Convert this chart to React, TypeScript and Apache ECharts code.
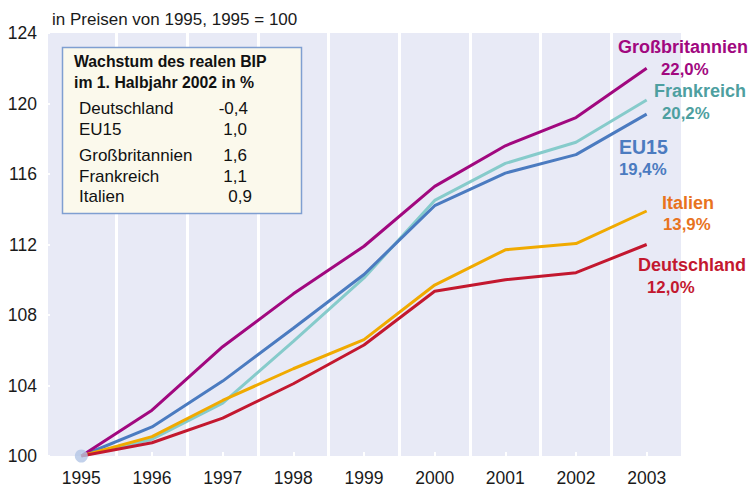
import React, { useEffect, useRef } from "react";
import * as echarts from "echarts";

const years = ["1995", "1996", "1997", "1998", "1999", "2000", "2001", "2002", "2003"];
const gb = [100, 102.6, 106.2, 109.2, 111.9, 115.3, 117.6, 119.2, 122.0];
const fr = [100, 100.95, 103.0, 106.5, 110.1, 114.5, 116.6, 117.8, 120.2];
const eu15 = [100, 101.65, 104.25, 107.25, 110.3, 114.2, 116.05, 117.1, 119.4];
const it = [100, 101.1, 103.15, 104.95, 106.6, 109.7, 111.7, 112.05, 113.9];
const de = [100, 100.75, 102.15, 104.1, 106.3, 109.35, 110.0, 110.4, 112.0];

const insetTitle = ["Wachstum des realen BIP", "im 1. Halbjahr 2002 in %"];
const insetNames = ["Deutschland", "EU15", "Großbritannien", "Frankreich", "Italien"];
const insetValues = ["-0,4", "1,0", "1,6", "1,1", "0,9"];

const seriesLabels = [
  { name: "Großbritannien", pct: "22,0%" },
  { name: "Frankreich", pct: "20,2%" },
  { name: "EU15", pct: "19,4%" },
  { name: "Italien", pct: "13,9%" },
  { name: "Deutschland", pct: "12,0%" },
];

const FONT = "Liberation Sans, Arial, sans-serif";

export default function App() {
  const ref = useRef<HTMLDivElement>(null);
  useEffect(() => {
    if (!ref.current) return;
    const chart = echarts.init(ref.current, null, { renderer: "svg" });
    const line = (name: string, data: number[], color: string, z: number) => ({
      name,
      type: "line",
      data,
      symbol: "none",
      z,
      lineStyle: { color, width: 3 },
      itemStyle: { color },
    });
    const rowY = [108, 129, 155, 176, 196];
    const valRight = [248, 247, 247, 247, 252];
    const graphic: any[] = [
      {
        type: "text",
        x: 52,
        y: 19,
        style: { text: "in Preisen von 1995, 1995 = 100", font: `17px ${FONT}`, fill: "#1a1a1a", verticalAlign: "middle" },
      },
      {
        type: "rect",
        shape: { x: 62.5, y: 47.5, width: 239, height: 166 },
        style: { fill: "#fbf9ec", stroke: "#7f9fd1", lineWidth: 1.5 },
        z: 10,
      },
    ];
    insetTitle.forEach((t, i) => {
      graphic.push({
        type: "text",
        x: 74,
        y: 61 + i * 21.5,
        z: 11,
        style: { text: t, font: `bold 15.8px ${FONT}`, fill: "#111", verticalAlign: "middle" },
      });
    });
    insetNames.forEach((n, i) => {
      graphic.push({
        type: "text",
        x: 79,
        y: rowY[i],
        z: 11,
        style: { text: n, font: `17px ${FONT}`, fill: "#111", verticalAlign: "middle" },
      });
      graphic.push({
        type: "text",
        x: valRight[i],
        y: rowY[i],
        z: 11,
        style: { text: insetValues[i], font: `17px ${FONT}`, fill: "#111", verticalAlign: "middle", align: "right" },
      });
    });
    const labelCfg = [
      { color: "#a1087f", nx: 618, ny: 47, px: 661, py: 69, size: 18 },
      { color: "#4e9fa0", nx: 654, ny: 91, px: 662, py: 113, size: 18 },
      { color: "#4b7bc0", nx: 619, ny: 147, px: 619, py: 169, size: 19.5 },
      { color: "#e8731e", nx: 662, ny: 203, px: 663, py: 224, size: 18 },
      { color: "#c3182f", nx: 638, ny: 265, px: 647, py: 287, size: 18 },
    ];
    seriesLabels.forEach((l, i) => {
      const c = labelCfg[i];
      graphic.push({
        type: "text",
        x: c.nx,
        y: c.ny,
        z: 12,
        style: { text: l.name, font: `bold ${c.size}px ${FONT}`, fill: c.color, verticalAlign: "middle" },
      });
      graphic.push({
        type: "text",
        x: c.px,
        y: c.py,
        z: 12,
        style: { text: l.pct, font: `bold 16.8px ${FONT}`, fill: c.color, verticalAlign: "middle" },
      });
    });

    chart.setOption({
      animation: false,
      grid: {
        left: 46,
        right: 68,
        top: 33,
        bottom: 32,
        show: true,
        backgroundColor: "#e8eaf6",
        borderWidth: 0,
      },
      xAxis: {
        type: "category",
        data: years,
        boundaryGap: true,
        axisLine: { show: false },
        axisTick: { show: true, inside: true, alignWithLabel: true, length: 4, lineStyle: { color: "#ffffff", width: 2 } },
        axisLabel: { color: "#1a1a1a", fontSize: 17.5, fontFamily: FONT, margin: 13 },
        splitLine: { show: true, lineStyle: { color: "#ffffff", width: 3 } },
      },
      yAxis: {
        type: "value",
        min: 100,
        max: 124,
        interval: 4,
        axisLine: { show: false },
        axisTick: { show: true, inside: true, length: 4, lineStyle: { color: "#ffffff", width: 2 } },
        axisLabel: { color: "#1a1a1a", fontSize: 17.5, fontFamily: FONT, margin: 9 },
        splitLine: { show: false },
      },
      series: [
        line("Frankreich", fr, "#86cbcb", 2),
        line("EU15", eu15, "#4b7bc0", 3),
        line("Großbritannien", gb, "#a1087f", 4),
        line("Italien", it, "#f0aa00", 5),
        line("Deutschland", de, "#c3182f", 6),
        {
          type: "scatter",
          data: [[years[0], gb[0]]],
          symbolSize: 13,
          z: 8,
          itemStyle: { color: "#b3c6e6" },
        },
      ],
      graphic,
    });
    return () => chart.dispose();
  }, []);
  return <div ref={ref} style={{ position: "absolute", left: 0, top: 0, width: 750, height: 488 }} />;
}
